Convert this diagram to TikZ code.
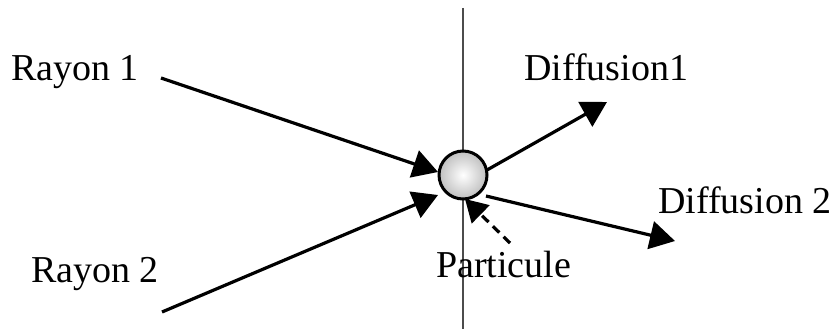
\documentclass[tikz,border=0pt]{standalone}
\usepackage{fontspec}
\setmainfont{Liberation Serif}
\usetikzlibrary{arrows.meta}
\begin{document}
\begin{tikzpicture}[x=1pt,y=-1pt,
  lbl/.style={anchor=base west,inner sep=0pt,font=\fontsize{38}{40}\selectfont},
  ray/.style={line width=3.2pt,-{Triangle[length=25pt,width=28pt]}},
  dray/.style={line width=3.2pt,dash pattern=on 9pt off 6pt,-{Triangle[length=22pt,width=25pt]}}]
\useasboundingbox (0,0) rectangle (834,329);
% vertical axis
\coordinate (vt) at (463,8);
\coordinate (vb) at (463,329);
\draw[line width=1.4pt,black!70] (vt) -- (vb);
% particle
\node[circle,minimum size=48pt,inner sep=0pt,line width=3pt,draw,
  inner color=white,outer color=black!25] (p) at (463,175) {};
% labels
\node[lbl] (r1) at (11,80) {Rayon 1};
\node[lbl] (r2) at (31,282) {Rayon 2};
\node[lbl] (d1) at (524,80) {Diffusion1};
\node[lbl] (d2) at (658,213) {Diffusion 2};
\node[lbl] (pt) at (436,277) {Particule};
% arrow end points
\coordinate (r1s) at (161,78);
\coordinate (r1e) at (438,172);
\coordinate (r2s) at (162,312);
\coordinate (r2e) at (438,195);
\coordinate (d1s) at (487,170);
\coordinate (d1e) at (607,102);
\coordinate (d2s) at (486,196);
\coordinate (d2e) at (675,241);
\coordinate (pts) at (510,243);
\coordinate (pte) at (465,199);
\draw[ray] (r1s) -- (r1e);
\draw[ray] (r2s) -- (r2e);
\draw[ray] (d1s) -- (d1e);
\draw[ray] (d2s) -- (d2e);
\draw[dray] (pts) -- (pte);
\end{tikzpicture}
\end{document}
